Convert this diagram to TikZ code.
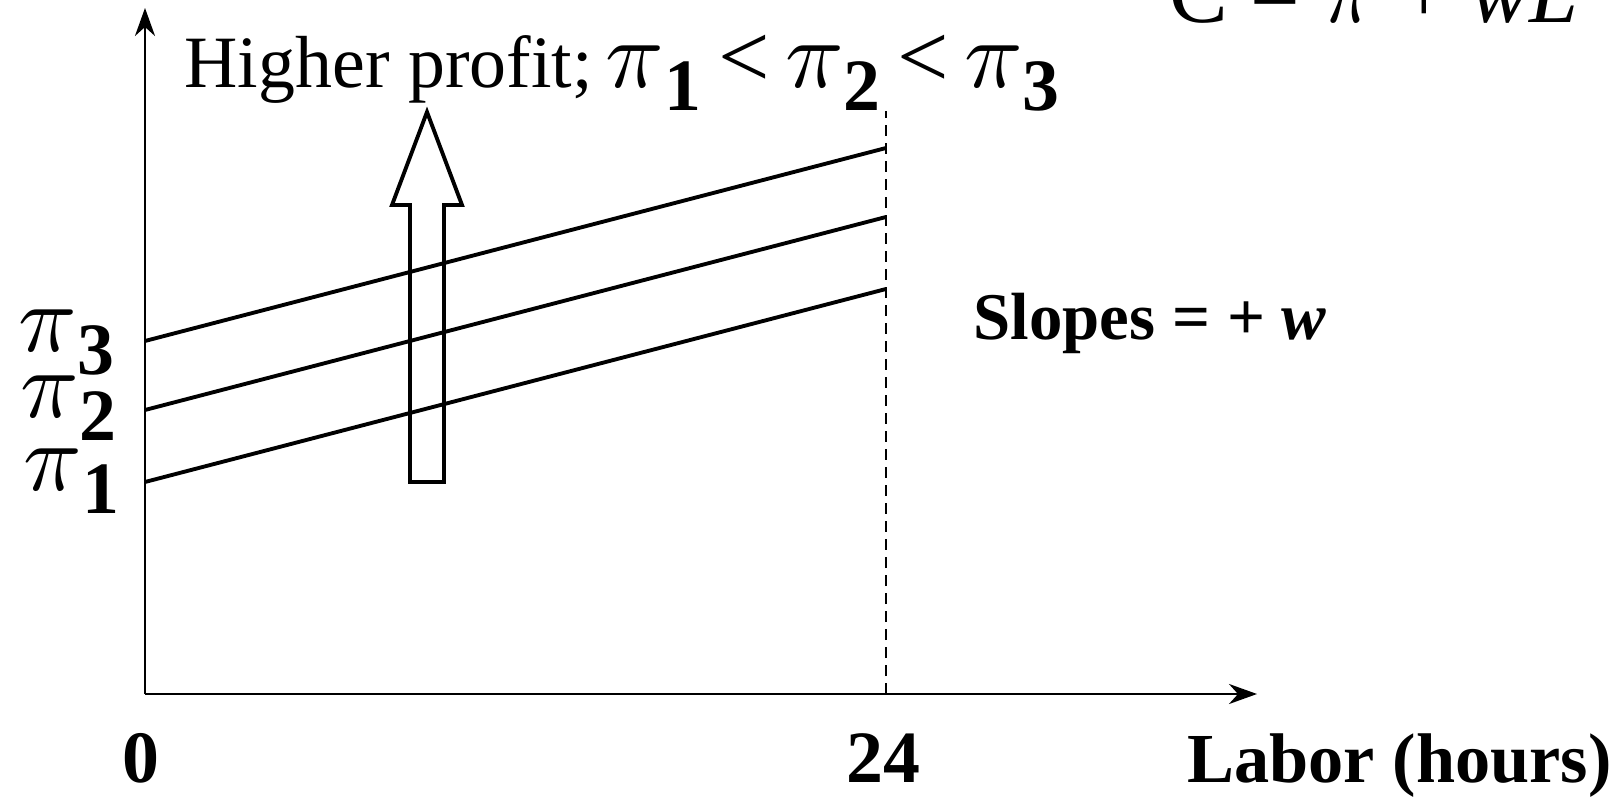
\documentclass[tikz,border=0pt]{standalone}
\usepackage{fontspec}
\setmainfont{Liberation Serif}
\usepackage{graphicx}
\usepackage{xcolor}
\usetikzlibrary{
  arrows.meta,
  positioning
}

% italic pi, scaled from its 10pt design
\newcommand{\bigpi}[1]{\scalebox{#1}{\fontsize{10}{12}\selectfont$\pi$}}
% profit symbol with its bold index set low
\newcommand{\profitsym}[1]{\bigpi{2.75}\raisebox{-6.5pt}{\fontsize{21}{24}\selectfont\bfseries #1}}

\begin{document}
\begin{tikzpicture}[
  axis/.style={line width=0.8pt, -{Stealth[length=2.8mm, width=2mm, inset=0.9mm]}},
  isoprofit/.style={line width=1.1pt},
  guide/.style={line width=0.7pt, dash pattern=on 1.1mm off 0.7mm},
  txt/.style={inner sep=0pt},
  pilab/.style={txt, font=\fontsize{26}{30}\selectfont},
  boldlab/.style={txt, font=\fontsize{21}{25}\selectfont\bfseries}
]
  \useasboundingbox (-1.45,-1.03) rectangle (14.70,6.94);

  % ---------- AXES ----------
  \coordinate (o) at (0,0);
  \coordinate (ytop) at (0,6.86);
  \coordinate (xend) at (11.12,0);
  \draw[axis] (o) -- (ytop);
  \draw[axis] (o) -- (xend);

  % full day of labor
  \coordinate (day) at (7.41,0);
  \draw[guide] (day) -- (7.41,5.83);

  % iso-profit lines, slope +w
  \foreach \y/\n in {2.12/1, 2.84/2, 3.53/3} {
    \coordinate (left\n) at (0,\y);
    \coordinate (right\n) at (7.41,\y+1.93);
    \draw[isoprofit] (left\n) -- (right\n);
  }

  % block arrow: direction of higher profit
  \draw[line width=1.1pt, line join=miter]
    (2.65,2.12) -- (2.65,4.89) -- (2.47,4.89) -- (2.82,5.82)
    -- (3.17,4.89) -- (2.99,4.89) -- (2.99,2.12) -- cycle;

  % ---------- LABELS ----------
  \node[txt, anchor=base west, font=\fontsize{21}{25}\selectfont] (higher) at (0.39,6.06) {Higher profit;};
  \node[pilab, base right=0.12cm of higher] (order)
    {\profitsym{1}\hspace{0.17cm}<\hspace{0.15cm}\profitsym{2}\hspace{0.17cm}<\hspace{0.15cm}\profitsym{3}};

  \node[txt, anchor=base west, font=\fontsize{25}{30}\selectfont] (cost) at (10.24,6.71) {C = \bigpi{2.6} + \textit{wL}};

  \node[txt, anchor=base west, font=\fontsize{19}{23}\selectfont\bfseries] (slopes) at (8.28,3.54) {Slopes = + \textit{w}};

  \node[pilab, anchor=base west] (pi3) at (-1.27,3.42) {\profitsym{3}};
  \node[pilab, anchor=base west] (pi2) at (-1.25,2.76) {\profitsym{2}};
  \node[pilab, anchor=base west] (pi1) at (-1.22,2.03) {\profitsym{1}};

  \node[boldlab, anchor=base] (zero) at (-0.04,-0.88) {0};
  \node[boldlab, anchor=base] (full) at (7.38,-0.88) {24};
  \node[boldlab, anchor=base west, font=\fontsize{20}{24}\selectfont\bfseries] (labor) at (10.42,-0.88) {Labor (hours)};

\end{tikzpicture}
\end{document}
